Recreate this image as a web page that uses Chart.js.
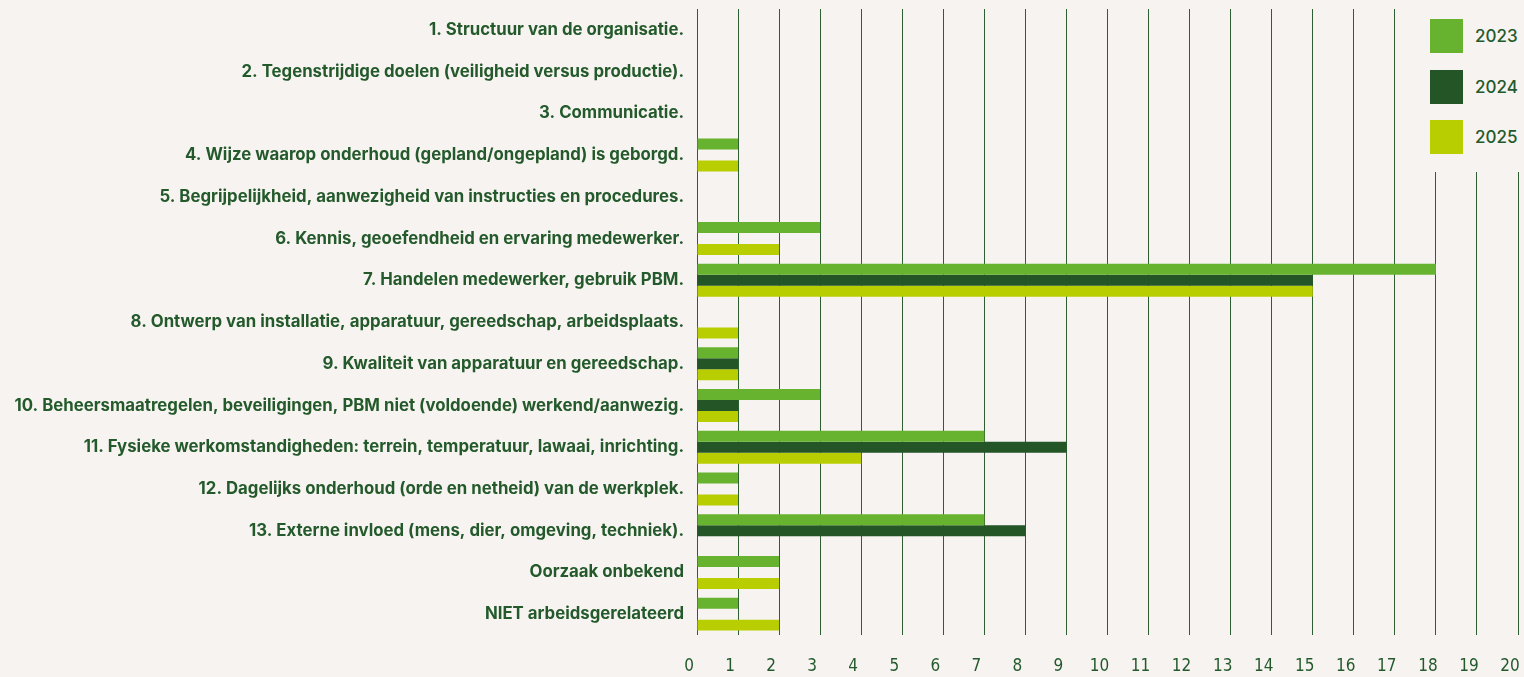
<!DOCTYPE html>
<html>
<head>
<meta charset="utf-8">
<script src="https://cdn.jsdelivr.net/npm/chart.js@4.4.1/dist/chart.umd.min.js"></script>
<style>
    html, body { margin: 0; padding: 0; background: #f6f3f0; }
    #wrap { position: relative; width: 1524px; height: 677px; }
    #legend {
        position: absolute; left: 1412px; top: 0; width: 112px; height: 172px;
        background: #f6f3f0; font-family: "Inter", sans-serif; font-weight: 500;
        font-size: 17px; color: #245a2b;
    }
    #legend div { position: absolute; left: 18px; height: 34px; line-height: 34px; }
    #legend span.box { display: inline-block; width: 33px; height: 34px; vertical-align: top; margin-right: 12px; }
</style>
</head>
<body>
<div id="wrap">
    <canvas id="chart" width="1524" height="677"></canvas>
    <div id="legend"></div>
</div>
<script>
    /**
     * Categories
     */
    const categories = [
        '1. Structuur van de organisatie.',
        '2. Tegenstrijdige doelen (veiligheid versus productie).',
        '3. Communicatie.',
        '4. Wijze waarop onderhoud (gepland/ongepland) is geborgd.',
        '5. Begrijpelijkheid, aanwezigheid van instructies en procedures.',
        '6. Kennis, geoefendheid en ervaring medewerker.',
        '7. Handelen medewerker, gebruik PBM.',
        '8. Ontwerp van installatie, apparatuur, gereedschap, arbeidsplaats.',
        '9. Kwaliteit van apparatuur en gereedschap.',
        '10. Beheersmaatregelen, beveiligingen, PBM niet (voldoende) werkend/aanwezig.',
        '11. Fysieke werkomstandigheden: terrein, temperatuur, lawaai, inrichting.',
        '12. Dagelijks onderhoud (orde en netheid) van de werkplek.',
        '13. Externe invloed (mens, dier, omgeving, techniek).',
        'Oorzaak onbekend',
        'NIET arbeidsgerelateerd'
    ];

    /**
     * Values
     */
    const values2023 = [0, 0, 0, 1, 0, 3, 18, 0, 1, 3, 7, 1, 7, 2, 1];
    const values2024 = [0, 0, 0, 0, 0, 0, 15, 0, 1, 1, 9, 0, 8, 0, 0];
    const values2025 = [0, 0, 0, 1, 0, 2, 15, 1, 1, 1, 4, 1, 0, 2, 2];

    /**
     * Ticks
     */
    const xMin = 0;
    const xMax = 20;

    /**
     * Series
     */
    const series = [
        { label: '2023', color: '#67b32f', data: values2023 },
        { label: '2024', color: '#235527', data: values2024 },
        { label: '2025', color: '#b9ce00', data: values2025 }
    ];

    const textColor = '#245a2b';

    /**
     * Legend
     */
    const legend = document.getElementById('legend');
    series.forEach(function (s, i) {
        const item = document.createElement('div');
        item.style.top = (19 + i * 50.5) + 'px';
        item.innerHTML = '<span class="box" style="background:' + s.color + '"></span>' + s.label;
        legend.appendChild(item);
    });

    /**
     * Chart
     */
    new Chart(document.getElementById('chart'), {
        type: 'bar',
        data: {
            labels: categories,
            datasets: series.map(function (s) {
                return {
                    label: s.label,
                    backgroundColor: s.color,
                    data: s.data,
                    barPercentage: 1,
                    categoryPercentage: 0.79
                };
            })
        },
        options: {
            indexAxis: 'y',
            responsive: false,
            animation: false,
            layout: { padding: { top: 9, right: 6, bottom: 2, left: 0 } },
            plugins: {
                legend: { display: false },
                tooltip: { enabled: false }
            },
            scales: {
                x: {
                    min: xMin,
                    max: xMax,
                    border: { display: false },
                    grid: { color: '#2e5e31', lineWidth: 1, drawTicks: false },
                    afterFit: function (scale) {
                        scale.paddingLeft = 0;
                        scale.paddingRight = 0;
                        scale.height = 40;
                    },
                    ticks: {
                        stepSize: 1,
                        padding: 21,
                        labelOffset: -8,
                        color: textColor,
                        font: { family: '"DejaVu Sans Condensed", "DejaVu Sans"', size: 17 }
                    }
                },
                y: {
                    border: { display: false },
                    grid: { display: false, drawTicks: false },
                    afterFit: function (scale) {
                        scale.width = 697;
                        scale.paddingTop = 0;
                        scale.paddingBottom = 0;
                    },
                    ticks: {
                        padding: 13,
                        color: textColor,
                        font: { family: 'Inter', size: 16.8, weight: '700' }
                    }
                }
            }
        }
    });
</script>
</body>
</html>
